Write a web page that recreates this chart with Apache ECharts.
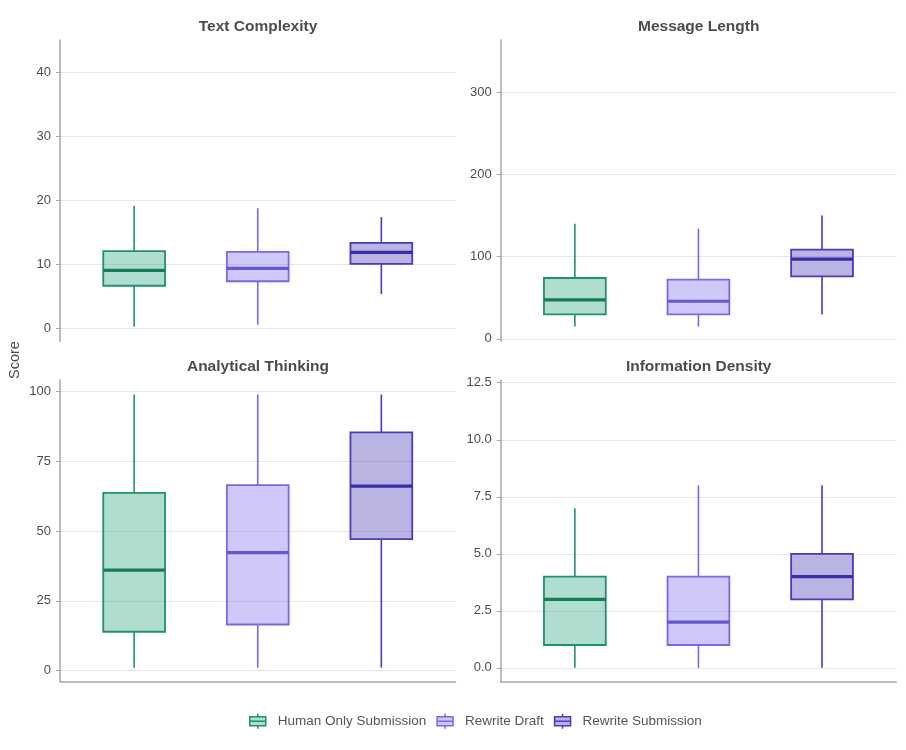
<!DOCTYPE html>
<html>
<head>
<meta charset="utf-8">
<script src="https://cdn.jsdelivr.net/npm/echarts@6/dist/echarts.min.js"></script>
<style>
  html, body { margin: 0; padding: 0; background: #fff; }
  .main { width: 906px; height: 750px; }
</style>
</head>
<body>
<div class="main"></div>
<script>
var groups = ['Human Only Submission', 'Rewrite Draft', 'Rewrite Submission'];
var metrics = ['Text Complexity', 'Message Length', 'Analytical Thinking', 'Information Density'];

// each row: [whisker low, Q1, median, Q3, whisker high]
var textComplexity = [[0.3, 6.7, 9.1, 12.1, 19.2], [0.6, 7.4, 9.4, 12.0, 18.8], [5.4, 10.1, 11.9, 13.4, 17.4]];
var messageLength = [[15, 29.6, 47.4, 74, 140], [15, 29.6, 45.7, 72, 134], [29.6, 76, 97, 108.5, 150]];
var analyticalThinking = [[1, 13.9, 36, 63.7, 99], [1, 16.5, 42.3, 66.5, 99], [1, 47.1, 66.1, 85.4, 99]];
var informationDensity = [[0, 1, 3, 4, 7], [0, 1, 2, 4, 8], [0, 3, 4, 5, 8]];

var tcTicks = [0, 10, 20, 30, 40];
var mlTicks = [0, 100, 200, 300];
var atTicks = [0, 25, 50, 75, 100];
var idTicks = [0, 2.5, 5, 7.5, 10, 12.5];

var strokes = ['#1f9170', '#7b68e6', '#4a3bb8'];
var fills = ['rgba(27,158,119,0.35)', 'rgba(123,104,238,0.36)', 'rgba(72,58,176,0.38)'];
var medians = ['#1b7a56', '#6656d4', '#3b2ca8'];

var panels = [
    {data: textComplexity, ticks: tcTicks, min: -2.0, max: 45.05, digits: 0, left: 60, top: 40, bottomAxis: false},
    {data: messageLength, ticks: mlTicks, min: -3.3, max: 363.6, digits: 0, left: 500.7, top: 40, bottomAxis: false},
    {data: analyticalThinking, ticks: atTicks, min: -3.95, max: 104.2, digits: 0, left: 60, top: 380, bottomAxis: true},
    {data: informationDensity, ticks: idTicks, min: -0.6, max: 12.62, digits: 1, left: 500.7, top: 380, bottomAxis: true}
];

var fontFamily = '"Liberation Sans", Arial, sans-serif';
var axisGrey = '#a6a6a6';

function makeRender(g) {
    return function (params, api) {
        var x = api.value(0);
        var lo = api.coord([x, api.value(1)]);
        var q1 = api.coord([x, api.value(2)]);
        var md = api.coord([x, api.value(3)]);
        var q3 = api.coord([x, api.value(4)]);
        var hi = api.coord([x, api.value(5)]);
        var half = api.size([0.5, 0])[0] / 2;
        return {
            type: 'group',
            children: [
                {type: 'line', shape: {x1: lo[0], y1: lo[1], x2: q1[0], y2: q1[1]}, style: {stroke: strokes[g], lineWidth: 1.6}},
                {type: 'line', shape: {x1: q3[0], y1: q3[1], x2: hi[0], y2: hi[1]}, style: {stroke: strokes[g], lineWidth: 1.6}},
                {type: 'rect', shape: {x: q3[0] - half, y: q3[1], width: half * 2, height: q1[1] - q3[1]},
                    style: {fill: fills[g], stroke: strokes[g], lineWidth: 1.8}},
                {type: 'line', shape: {x1: md[0] - half, y1: md[1], x2: md[0] + half, y2: md[1]},
                    style: {stroke: medians[g], lineWidth: 3.2}}
            ]
        };
    };
}

var grids = [], xAxes = [], yAxes = [], series = [], titles = [];
panels.forEach(function (p, i) {
    grids.push({left: p.left, top: p.top, width: 395.5, height: 301.5});
    xAxes.push({
        type: 'value', gridIndex: i, min: 0.4, max: 3.6,
        axisLine: {show: p.bottomAxis, onZero: false, lineStyle: {color: axisGrey, width: 1.5}},
        axisTick: {show: false}, axisLabel: {show: false}, splitLine: {show: false}
    });
    yAxes.push({
        type: 'value', gridIndex: i, min: p.min, max: p.max,
        axisLine: {show: true, lineStyle: {color: axisGrey, width: 1.5}},
        axisTick: {show: true, length: 4, customValues: p.ticks, lineStyle: {color: axisGrey}},
        axisLabel: {
            customValues: p.ticks, margin: 9, color: '#4d4d4d', fontSize: 13, fontFamily: fontFamily,
            formatter: function (v) { return Number(v).toFixed(p.digits); }
        },
        splitLine: {show: true, lineStyle: {color: '#e6e6e6', width: 1}}
    });
    titles.push({
        text: metrics[i], left: p.left + 198, top: p.top - 21, textAlign: 'center', padding: 0,
        textStyle: {fontSize: 15.5, fontWeight: 'bold', color: '#4d4d4d', fontFamily: fontFamily}
    });
    p.data.forEach(function (row, g) {
        series.push({
            type: 'custom', name: groups[g], xAxisIndex: i, yAxisIndex: i,
            renderItem: makeRender(g),
            itemStyle: {color: fills[g], borderColor: strokes[g]},
            encode: {x: 0, y: [1, 2, 3, 4, 5]},
            data: [[g + 1].concat(row)]
        });
    });
});

var boxIcon = 'path://M8,0 L8,3 M0,3 L16,3 L16,12 L0,12 Z M0,7.5 L16,7.5 M8,12 L8,15';

var myChart = echarts.init(document.querySelector('.main'));
var option = {
    animation: false,
    title: titles,
    grid: grids,
    xAxis: xAxes,
    yAxis: yAxes,
    legend: {
        left: 244, top: 708, itemGap: 10, itemWidth: 16, itemHeight: 16,
        textStyle: {fontSize: 13.5, color: '#555', fontFamily: fontFamily, padding: [0, 0, 0, 7]},
        data: groups.map(function (g, k) {
            return {name: g, icon: boxIcon, itemStyle: {color: fills[k], borderColor: strokes[k], borderWidth: 1.5}};
        })
    },
    graphic: [{
        type: 'text', x: 15, y: 360, rotation: Math.PI / 2,
        style: {text: 'Score', fontSize: 14.5, fill: '#4d4d4d', fontFamily: fontFamily, align: 'center', verticalAlign: 'middle'}
    }],
    series: series
};
myChart.setOption(option);
</script>
</body>
</html>
